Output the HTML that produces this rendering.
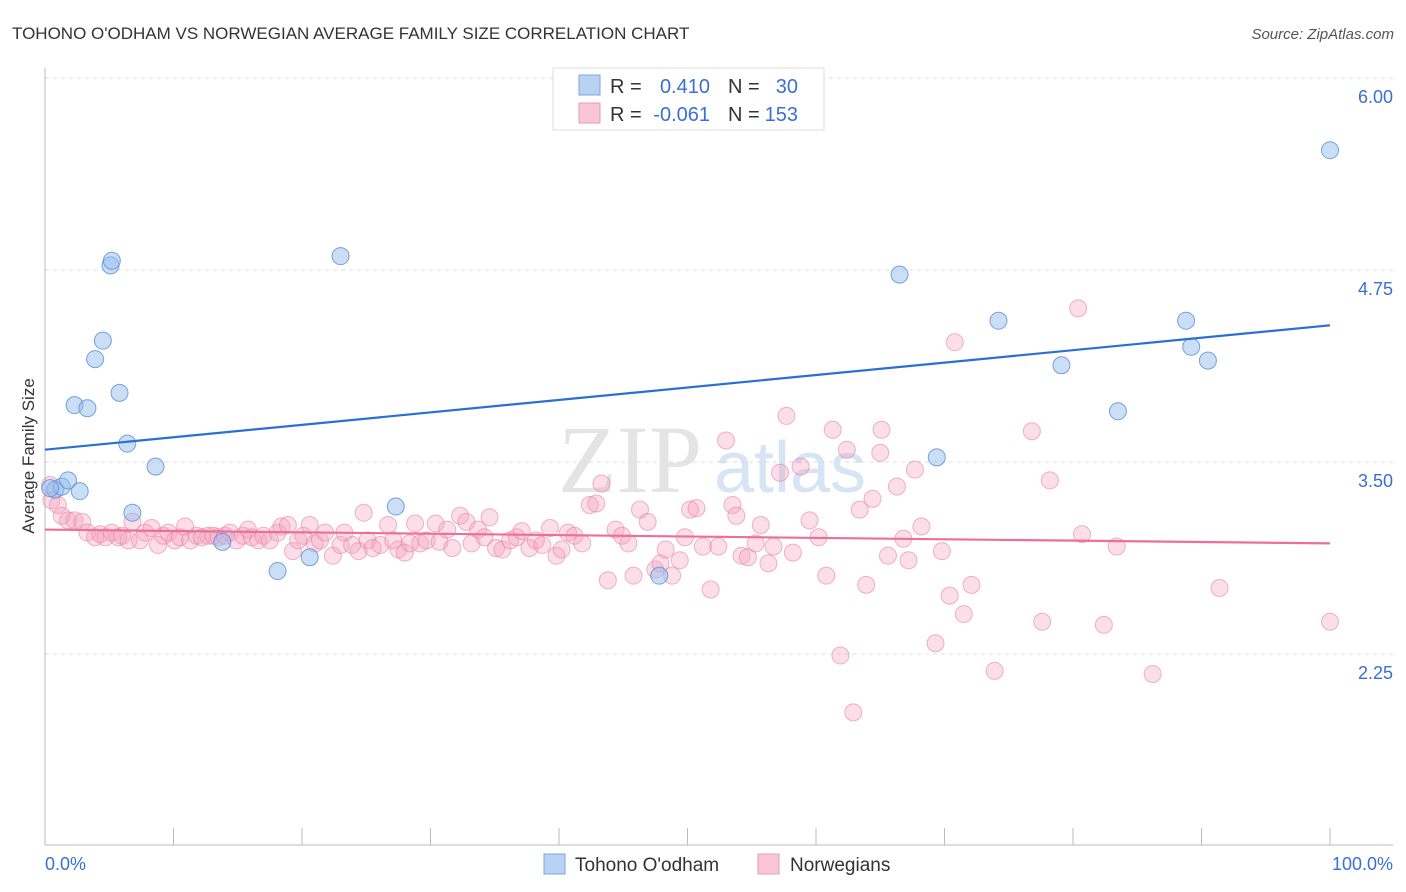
<!DOCTYPE html>
<html><head><meta charset="utf-8"><style>
body{margin:0;background:#fff;font-family:"Liberation Sans",sans-serif;}
svg{display:block}
</style></head><body>
<svg id="chart" width="1406" height="892">
<text x="12" y="39" font-size="17" fill="#333">TOHONO O'ODHAM VS NORWEGIAN AVERAGE FAMILY SIZE CORRELATION CHART</text>
<text x="1394" y="39" font-size="15" fill="#555" font-style="italic" text-anchor="end">Source: ZipAtlas.com</text>
<text x="630" y="492" font-size="96" fill="#e4e4e4" font-family="Liberation Serif" text-anchor="middle">ZIP</text>
<text x="790" y="492" font-size="72" fill="#d6e4f4" text-anchor="middle">atlas</text>
<g id="grid"></g>
<line x1="45" y1="68" x2="45" y2="845" stroke="#bbb"/>
<line x1="45" y1="845" x2="1393" y2="845" stroke="#bbb"/>
<g id="ticks"></g>
<text transform="translate(34,456) rotate(-90)" font-size="17" fill="#333" text-anchor="middle">Average Family Size</text>
<text x="45" y="870" font-size="18" fill="#3b6fd4">0.0%</text>
<text x="1393" y="870" font-size="18" fill="#3b6fd4" text-anchor="end">100.0%</text>
<g id="pts"></g>
<g id="lines"></g>
<g>
<rect x="553" y="68" width="271" height="62" fill="#fff" stroke="#ddd"/>
<rect x="579" y="75" width="21" height="20" fill="#b8d2f4" stroke="#7aa6e0"/>
<rect x="579" y="103" width="21" height="20" fill="#f8c6d6" stroke="#ec9ab6"/>
<text x="610" y="93" font-size="20" fill="#333">R =</text>
<text x="710" y="93" font-size="20" fill="#3b6fd4" text-anchor="end">0.410</text>
<text x="728" y="93" font-size="20" fill="#333">N =</text>
<text x="798" y="93" font-size="20" fill="#3b6fd4" text-anchor="end">30</text>
<text x="610" y="121" font-size="20" fill="#333">R =</text>
<text x="710" y="121" font-size="20" fill="#3b6fd4" text-anchor="end">-0.061</text>
<text x="728" y="121" font-size="20" fill="#333">N =</text>
<text x="798" y="121" font-size="20" fill="#3b6fd4" text-anchor="end">153</text>
</g>
<g>
<rect x="544" y="854" width="21" height="20" fill="#b8d2f4" stroke="#7aa6e0"/>
<text x="575" y="871" font-size="19" fill="#333">Tohono O'odham</text>
<rect x="758" y="854" width="21" height="20" fill="#f8c6d6" stroke="#ec9ab6"/>
<text x="790" y="871" font-size="19" fill="#333">Norwegians</text>
</g>
</svg>
<script>
const yTicks=[6.00,4.75,3.50,2.25];
const yTickLabels=["6.00","4.75","3.50","2.25"];
const xTicks=[0,10,20,30,40,50,60,70,80,90,100];
const blueX=[0.8,1.3,1.8,2.7,2.3,3.3,3.9,4.5,5.1,5.2,5.8,6.4,6.8,8.6,13.8,18.1,20.6,23.0,27.3,47.8,66.5,69.4,74.2,79.1,83.5,88.8,89.2,90.5,100,0.4];
const blueY=[3.32,3.34,3.38,3.31,3.87,3.85,4.17,4.29,4.78,4.81,3.95,3.62,3.17,3.47,2.98,2.79,2.88,4.84,3.21,2.76,4.72,3.53,4.42,4.13,3.83,4.42,4.25,4.16,5.53,3.33];
const pinkX=[0.4,0.5,1.0,1.3,1.8,2.3,2.9,3.3,3.9,4.3,4.7,5.2,5.7,6.0,6.5,6.8,7.4,7.8,8.3,8.8,9.2,9.6,10.1,10.5,10.9,11.3,11.8,12.2,12.7,13.1,13.5,14.0,14.4,14.9,15.4,15.8,16.1,16.6,17.0,17.5,18.1,18.4,18.9,19.3,19.7,20.1,20.6,21.0,21.4,21.8,22.4,23.0,23.3,23.9,24.4,24.8,25.1,25.5,26.1,26.7,27.1,27.5,28.0,28.4,28.8,29.2,29.7,30.4,30.7,31.3,31.7,32.3,32.8,33.2,33.7,34.2,34.6,35.1,35.6,36.2,36.7,37.1,37.7,38.2,38.7,39.3,39.8,40.2,40.7,41.2,41.8,42.4,42.9,43.3,43.8,44.4,44.9,45.4,45.8,46.3,46.9,47.5,47.9,48.3,48.8,49.4,49.8,50.2,50.7,51.2,51.8,52.4,53.0,53.5,53.8,54.2,54.7,55.3,55.7,56.3,56.7,57.2,57.7,58.2,58.8,59.5,60.2,60.8,61.3,61.9,62.4,62.9,63.4,63.9,64.4,65.0,65.1,65.6,66.3,66.8,67.2,67.7,68.2,69.3,69.8,70.4,70.8,71.5,72.1,73.9,76.8,77.6,78.2,80.4,80.7,82.4,83.4,86.2,91.4,100];
const pinkY=[3.35,3.25,3.22,3.15,3.12,3.12,3.11,3.04,3.01,3.03,3.01,3.04,3.01,3.02,2.99,3.11,2.99,3.04,3.07,2.96,3.02,3.04,2.99,3.01,3.08,2.99,3.02,3.01,3.02,3.02,3.01,3.02,3.04,2.99,3.02,3.06,3.01,2.99,3.02,2.99,3.04,3.08,3.09,2.92,2.99,3.02,3.09,2.97,2.99,3.04,2.89,2.96,3.04,2.96,2.92,3.17,2.99,2.94,2.96,3.09,2.99,2.93,2.91,2.97,3.10,2.97,2.99,3.10,2.98,3.06,2.94,3.15,3.11,2.97,3.06,3.01,3.14,2.94,2.93,2.99,3.01,3.05,2.94,2.99,2.96,3.07,2.89,2.93,3.04,3.02,2.97,3.22,3.23,3.36,2.73,3.06,3.02,2.97,2.76,3.19,3.11,2.80,2.84,2.93,2.76,2.86,3.01,3.19,3.20,2.95,2.67,2.95,3.64,3.22,3.15,2.89,2.88,2.97,3.09,2.84,2.95,3.43,3.80,2.91,3.47,3.12,3.01,2.76,3.71,2.24,3.58,1.87,3.19,2.70,3.26,3.56,3.71,2.89,3.34,3.00,2.86,3.45,3.08,2.32,2.92,2.63,4.28,2.51,2.70,2.14,3.70,2.46,3.38,4.50,3.03,2.44,2.95,2.12,2.68,2.46];
const blueFit=[3.58,4.39];
const pinkFit=[3.06,2.97];
const NS="http://www.w3.org/2000/svg";
const X0=45,X1=1330;
function xs(p){return X0+(X1-X0)*p/100;}
function ys(v){return 462-(v-3.5)*153.6;}
function mk(tag,attrs,parent){const e=document.createElementNS(NS,tag);for(const k in attrs)e.setAttribute(k,attrs[k]);parent.appendChild(e);return e;}
const grid=document.getElementById('grid');
yTicks.forEach((v,i)=>{
  const l=mk('line',{x1:45,x2:1393,y1:ys(v),y2:ys(v),stroke:'#ddd','stroke-dasharray':'4,4'},grid);
  
  
  const t=mk('text',{x:1393,y:ys(v)+25,'font-size':18,fill:'#3b6fd4','text-anchor':'end'},grid);
  t.textContent=yTickLabels[i];
  
  
});
const tk=document.getElementById('ticks');
xTicks.forEach(p=>{
  const l=mk('line',{x1:xs(p),x2:xs(p),y1:828,y2:845,stroke:'#bbb'},tk);
  
  
});
const pts=document.getElementById('pts');
pinkX.forEach((x,i)=>{
  const c=mk('circle',{cx:xs(x),cy:ys(pinkY[i]),r:8.5,fill:'rgba(244,160,188,0.35)',stroke:'rgba(232,130,165,0.6)','stroke-width':1},pts);
  
  
});
blueX.forEach((x,i)=>{
  const c=mk('circle',{cx:xs(x),cy:ys(blueY[i]),r:8.5,fill:'rgba(150,190,238,0.5)',stroke:'rgba(90,140,215,0.8)','stroke-width':1},pts);
  
  
});
const ln=document.getElementById('lines');
const bl=mk('line',{x1:xs(0),x2:xs(100),y1:ys(blueFit[0]),y2:ys(blueFit[1]),stroke:'#2a6fd6','stroke-width':2.2},ln);


const pl=mk('line',{x1:xs(0),x2:xs(100),y1:ys(pinkFit[0]),y2:ys(pinkFit[1]),stroke:'#ec6f98','stroke-width':2.2},ln);


</script>
</body></html>
